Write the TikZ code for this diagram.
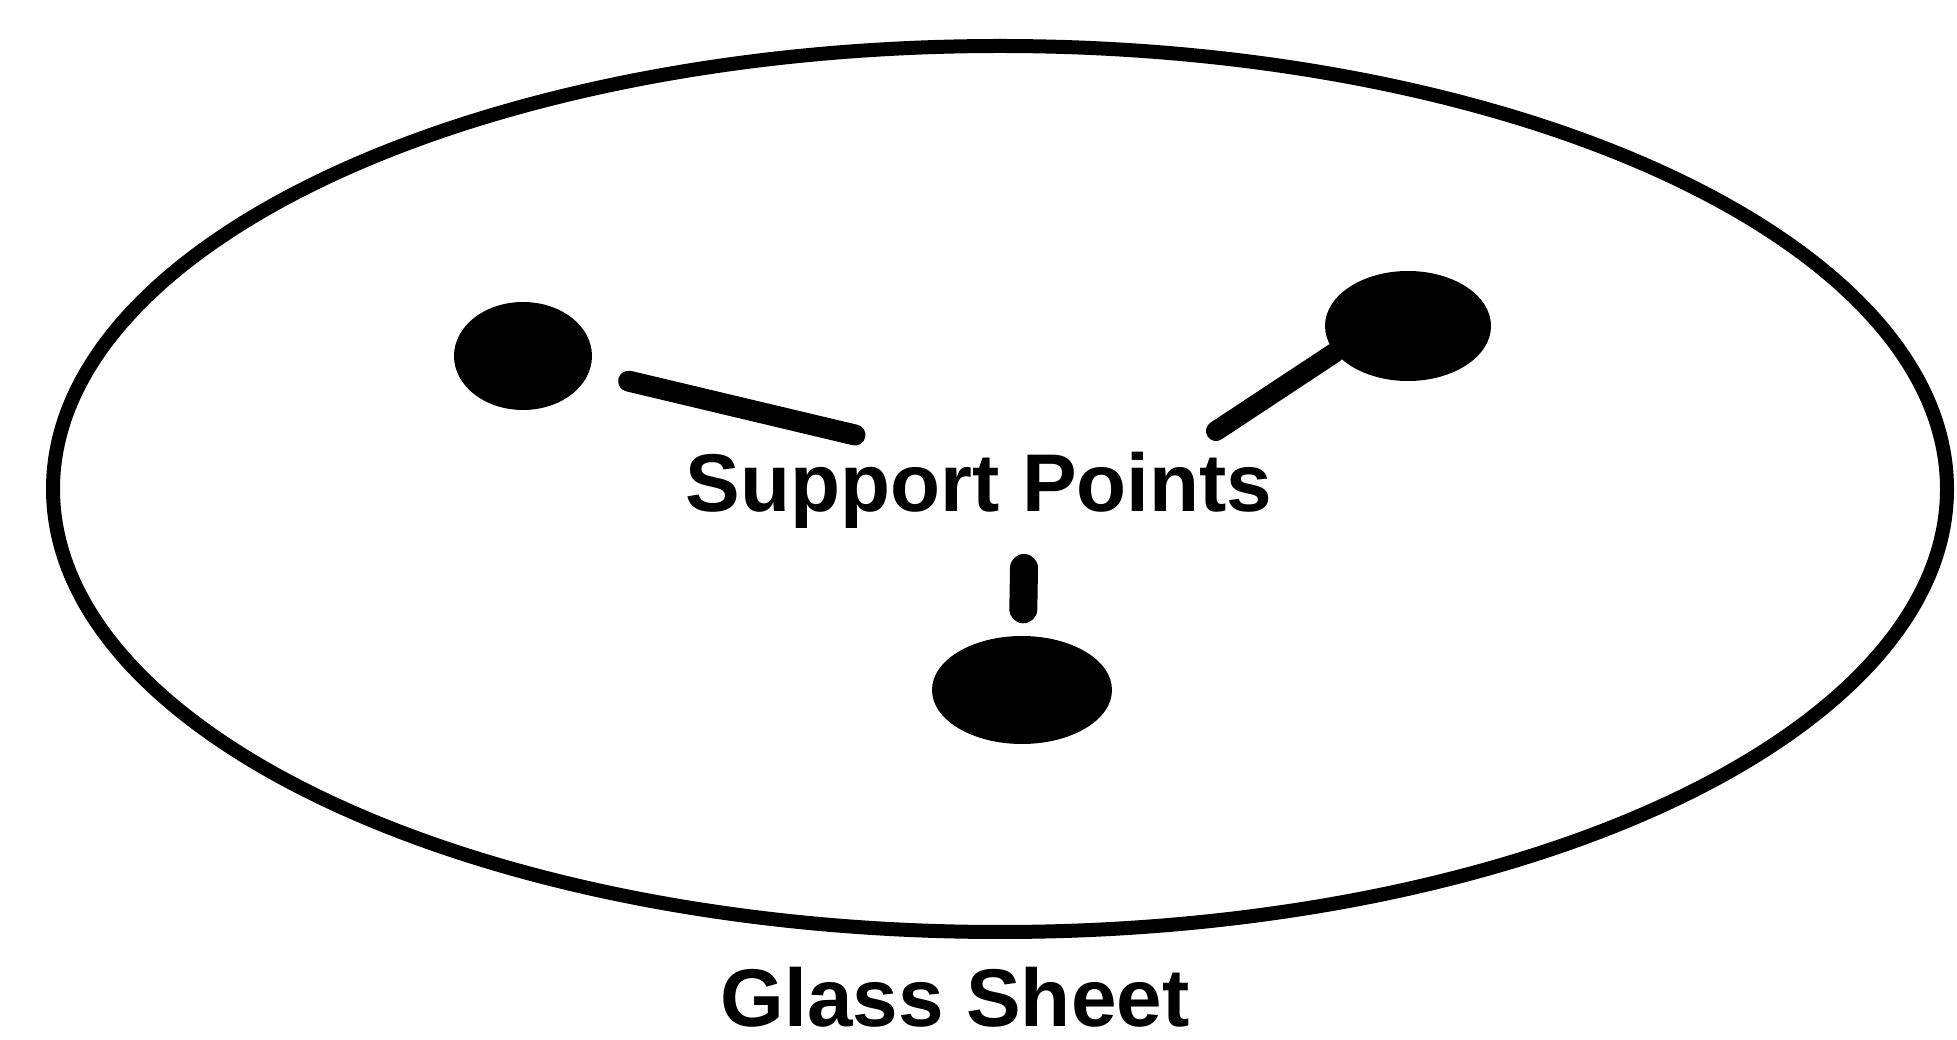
\documentclass[tikz,border=0pt]{standalone}
\usepackage{fontspec}
\setmainfont{Liberation Sans}
\usepackage{tikz}
\usetikzlibrary{shapes.geometric, positioning}

\tikzset{
  suppdot/.style={ellipse, fill=black, inner sep=0pt},
  leader/.style={line width=0.21cm, line cap=round},
  caption/.style={anchor=base, inner sep=0pt, outer sep=0pt,
    font=\fontsize{23.3pt}{26pt}\selectfont\bfseries}
}

\begin{document}
\begin{tikzpicture}
  \useasboundingbox (0,0) rectangle (19.57,10.39);

  % glass sheet outline
  \node[ellipse, draw, line width=0.14cm, minimum width=18.94cm,
        minimum height=8.86cm, inner sep=0pt] (sheet) at (10.00,5.50) {};

  % support points
  \node[suppdot, minimum width=1.38cm, minimum height=1.08cm] (dotL) at (5.23,6.83) {};
  \node[suppdot, minimum width=1.66cm, minimum height=1.10cm] (dotR) at (14.08,7.13) {};
  \node[suppdot, minimum width=1.80cm, minimum height=1.08cm] (dotB) at (10.22,3.49) {};

  % labels
  \node[caption] (supp) at (9.79,5.27) {Support Points};
  \node[caption] (glass) at (9.55,0.13) {Glass Sheet};

  % free ends of the leader lines
  \coordinate (tipL) at (8.55,6.04);
  \coordinate (tipR) at (12.16,6.08);
  \coordinate (tipB) at (10.24,4.71);

  \draw[leader, shorten <=0.40cm] (dotL) -- (tipL);
  \draw[leader, line width=0.20cm] (tipR) -- (dotR.200);
  \draw[leader, line width=0.28cm, shorten <=0.26cm] (dotB) -- (tipB);
\end{tikzpicture}
\end{document}
